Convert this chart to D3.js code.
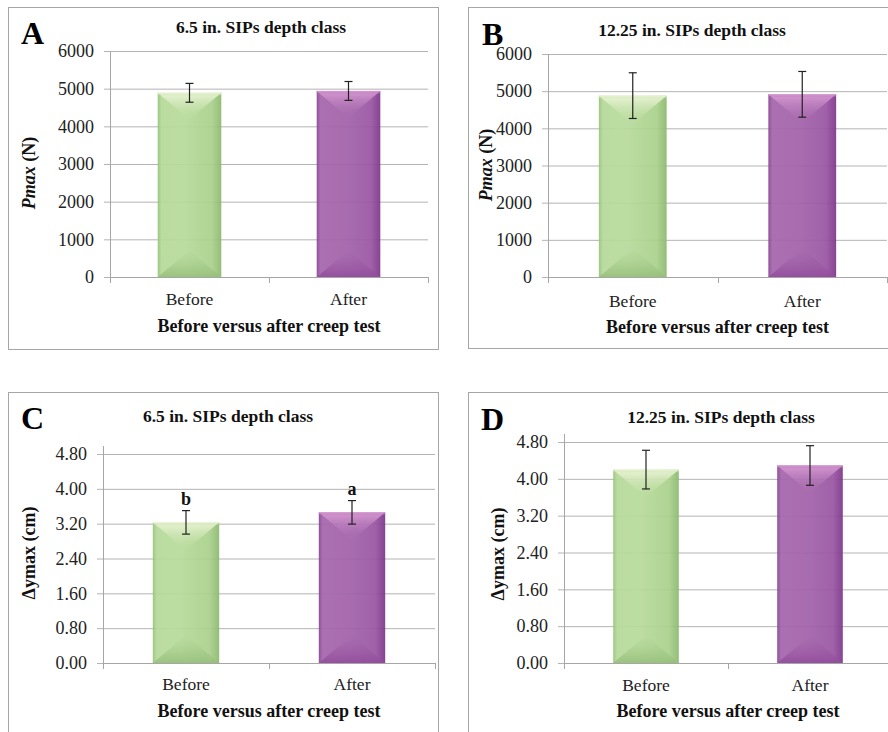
<!DOCTYPE html>
<html>
<head>
<meta charset="utf-8">
<script src="https://cdn.jsdelivr.net/npm/d3@7"></script>
<style>
  body { margin: 0; background: #fff; }
  svg, svg text { font-family: "Liberation Serif", "Times New Roman", Times, "DejaVu Serif", serif !important; }
</style>
</head>
<body>
<div id="chart"></div>
<script>
// data
var categories = ["Before", "After"];

var pmax65 = [4890, 4940];
var pmax65Err = [250, 250];
var pmax1225 = [4880, 4915];
var pmax1225Err = [615, 615];

var dy65 = [3.23, 3.46];
var dy65Err = [0.27, 0.27];
var dy65Letters = ["b", "a"];
var dy1225 = [4.20, 4.29];
var dy1225Err = [0.42, 0.43];

var pmaxTicks = [0, 1000, 2000, 3000, 4000, 5000, 6000];
var dyTicks = [0, 0.8, 1.6, 2.4, 3.2, 4.0, 4.8];

var titles = ["6.5 in. SIPs depth class", "12.25 in. SIPs depth class"];
var xTitle = "Before versus after creep test";

var W = 888, H = 732;
var SERIF = '"Liberation Serif", "Times New Roman", Times, "DejaVu Serif", serif';

var svg = d3.select("#chart").append("svg")
    .attr("width", W)
    .attr("height", H)
    .attr("font-family", SERIF);

var defs = svg.append("defs");

// bar fills: horizontal shading plus bevel triangles
function hGrad(id, stops) {
  var g = defs.append("linearGradient").attr("id", id)
      .attr("x1", "0").attr("x2", "1").attr("y1", "0").attr("y2", "0");
  stops.forEach(function(s) {
    g.append("stop").attr("offset", s[0]).attr("stop-color", s[1]);
  });
}
function vGrad(id, c1, o1, c2, o2) {
  var g = defs.append("linearGradient").attr("id", id)
      .attr("x1", "0").attr("x2", "0").attr("y1", "0").attr("y2", "1");
  g.append("stop").attr("offset", 0).attr("stop-color", c1).attr("stop-opacity", o1);
  g.append("stop").attr("offset", 1).attr("stop-color", c2).attr("stop-opacity", o2);
}
hGrad("gBody", [[0, "#96c379"], [0.06, "#b6da9a"], [0.4, "#b8db9b"], [0.85, "#aad18c"], [1, "#8cba6e"]]);
hGrad("pBody", [[0, "#8a4396"], [0.06, "#a566ac"], [0.4, "#a363aa"], [0.85, "#9a56a3"], [1, "#7e368b"]]);
vGrad("gTop", "#eef6d8", 0.95, "#b6da99", 0.1);
vGrad("pTop", "#d996d2", 0.95, "#a262aa", 0.1);
vGrad("gBot", "#a2cb84", 0.0, "#8fbb72", 0.9);
vGrad("pBot", "#9a56a3", 0.0, "#8a3f95", 0.9);

var fills = [
  { body: "url(#gBody)", top: "url(#gTop)", bot: "url(#gBot)" },
  { body: "url(#pBody)", top: "url(#pTop)", bot: "url(#pBot)" }
];

var panels = [
  { letter: "A", values: pmax65, errs: pmax65Err, ticks: pmaxTicks, fmt: d3.format("d"),
    ylabel: "pmax", border: [8, 7, 430, 342],
    left: 110, right: 428, top: 51, bottom: 277, axisTop: 51,
    letterPos: [21, 44], titlePos: [261, 33], ylabelPos: [35, 173],
    catY: 305, xTitleY: 332, title: titles[0] },
  { letter: "B", values: pmax1225, errs: pmax1225Err, ticks: pmaxTicks, fmt: d3.format("d"),
    ylabel: "pmax", border: [468, 7, 440, 341],
    left: 548, right: 887, top: 54, bottom: 277, axisTop: 54,
    letterPos: [482, 45], titlePos: [692, 36], ylabelPos: [492, 165],
    catY: 307, xTitleY: 333, title: titles[1] },
  { letter: "C", values: dy65, errs: dy65Err, ticks: dyTicks, fmt: d3.format(".2f"),
    ylabel: "dy", letters: dy65Letters, border: [8, 392, 430, 360],
    left: 103, right: 435, top: 454, bottom: 663, axisTop: 446,
    letterPos: [21, 429], titlePos: [228, 422], ylabelPos: [35, 553],
    catY: 690, xTitleY: 717, title: titles[0] },
  { letter: "D", values: dy1225, errs: dy1225Err, ticks: dyTicks, fmt: d3.format(".2f"),
    ylabel: "dy", border: [468, 392, 440, 360],
    left: 564, right: 892, top: 442, bottom: 663, axisTop: 434,
    letterPos: [481, 430], titlePos: [721, 423], ylabelPos: [504, 554],
    catY: 691, xTitleY: 717, title: titles[1] }
];

panels.forEach(drawPanel);

function drawPanel(p) {
  var g = svg.append("g");

  // panel frame
  g.append("rect")
      .attr("x", p.border[0] + 0.5).attr("y", p.border[1] + 0.5)
      .attr("width", p.border[2]).attr("height", p.border[3])
      .attr("fill", "#fff").attr("stroke", "#a6a6a6").attr("stroke-width", 1);

  var x = d3.scaleBand()
      .domain(categories)
      .range([p.left, p.right])
      .paddingInner(0.6)
      .paddingOuter(0.3);

  var ymax = p.ticks[p.ticks.length - 1];
  var y = d3.scaleLinear()
      .domain([0, ymax])
      .range([p.bottom, p.top]);

  // gridlines + y tick labels
  var yAxis = d3.axisLeft(y)
      .tickValues(p.ticks)
      .tickFormat(p.fmt)
      .tickSize(-(p.right - p.left))
      .tickPadding(16);

  var ya = g.append("g")
      .attr("transform", "translate(" + p.left + ",0)")
      .call(yAxis)
      .attr("font-family", SERIF)
      .attr("font-size", 18);
  ya.select(".domain").remove();
  ya.selectAll("line").attr("stroke", "#b4b4b4").attr("x1", -6);
  ya.selectAll("text").attr("fill", "#222");

  // y axis line
  g.append("line")
      .attr("x1", p.left + 0.5).attr("x2", p.left + 0.5)
      .attr("y1", p.axisTop).attr("y2", p.bottom + 6)
      .attr("stroke", "#a6a6a6");

  // bars
  var bars = g.selectAll(".bar")
      .data(p.values)
      .enter().append("g")
      .attr("class", "bar")
      .attr("opacity", 0.93);

  bars.each(function(v, i) {
    var b = d3.select(this);
    var x0 = x(categories[i]), x1 = x0 + x.bandwidth(), cx = (x0 + x1) / 2;
    var yt = y(v), yb = y(0);
    var depth = x.bandwidth() * 0.42;
    b.append("rect")
        .attr("x", x0).attr("y", yt)
        .attr("width", x.bandwidth()).attr("height", yb - yt)
        .attr("fill", fills[i].body);
    b.append("path")
        .attr("d", "M" + x0 + "," + yt + "L" + x1 + "," + yt + "L" + cx + "," + (yt + depth) + "Z")
        .attr("fill", fills[i].top);
    b.append("path")
        .attr("d", "M" + x0 + "," + yb + "L" + x1 + "," + yb + "L" + cx + "," + (yb - depth) + "Z")
        .attr("fill", fills[i].bot);
    b.append("rect")
        .attr("x", x0).attr("y", yt)
        .attr("width", x.bandwidth()).attr("height", 3)
        .attr("fill", fills[i].top);
  });

  // error bars
  var eb = g.selectAll(".err")
      .data(p.values)
      .enter().append("g")
      .attr("class", "err")
      .attr("stroke", "#222")
      .attr("stroke-width", 1.2);
  eb.append("line")
      .attr("x1", function(d, i) { return x(categories[i]) + x.bandwidth() / 2; })
      .attr("x2", function(d, i) { return x(categories[i]) + x.bandwidth() / 2; })
      .attr("y1", function(d, i) { return y(d + p.errs[i]); })
      .attr("y2", function(d, i) { return y(d - p.errs[i]); });
  [1, -1].forEach(function(sgn) {
    eb.append("line")
        .attr("x1", function(d, i) { return x(categories[i]) + x.bandwidth() / 2 - 4; })
        .attr("x2", function(d, i) { return x(categories[i]) + x.bandwidth() / 2 + 4; })
        .attr("y1", function(d, i) { return y(d + sgn * p.errs[i]); })
        .attr("y2", function(d, i) { return y(d + sgn * p.errs[i]); });
  });

  // significance letters
  if (p.letters) {
    g.selectAll(".sig")
        .data(p.values)
        .enter().append("text")
        .attr("class", "sig")
        .attr("x", function(d, i) { return x(categories[i]) + x.bandwidth() / 2; })
        .attr("y", function(d, i) { return y(d + p.errs[i]) - 6; })
        .attr("text-anchor", "middle")
        .attr("font-size", 18)
        .attr("font-weight", "bold")
        .attr("fill", "#111")
        .text(function(d, i) { return p.letters[i]; });
  }

  // x axis line and category boundary ticks
  g.append("line")
      .attr("x1", p.left).attr("x2", p.right)
      .attr("y1", p.bottom + 0.5).attr("y2", p.bottom + 0.5)
      .attr("stroke", "#a6a6a6");
  var bounds = d3.range(categories.length + 1).map(function(k) { return p.left + k * x.step(); });
  g.selectAll(".xtick")
      .data(bounds)
      .enter().append("line")
      .attr("class", "xtick")
      .attr("x1", function(d) { return Math.round(d) + 0.5; })
      .attr("x2", function(d) { return Math.round(d) + 0.5; })
      .attr("y1", p.bottom)
      .attr("y2", p.bottom + 6)
      .attr("stroke", "#a6a6a6");

  var xa = g.append("g")
      .attr("transform", "translate(0," + p.bottom + ")")
      .call(d3.axisBottom(x).tickSize(0).tickPadding(0))
      .attr("font-family", SERIF)
      .attr("font-size", 17.5);
  xa.select(".domain").remove();
  xa.selectAll("text")
      .attr("y", p.catY - p.bottom)
      .attr("dy", 0)
      .attr("fill", "#222");

  // x title
  g.append("text")
      .attr("x", (p.left + p.right) / 2)
      .attr("y", p.xTitleY)
      .attr("text-anchor", "middle")
      .attr("font-size", 18)
      .attr("font-weight", "bold")
      .attr("fill", "#111")
      .text(xTitle);

  // chart title
  g.append("text")
      .attr("x", p.titlePos[0]).attr("y", p.titlePos[1])
      .attr("text-anchor", "middle")
      .attr("font-size", 17.5)
      .attr("font-weight", "bold")
      .attr("fill", "#111")
      .text(p.title);

  // panel letter
  g.append("text")
      .attr("x", p.letterPos[0]).attr("y", p.letterPos[1])
      .attr("font-size", 32)
      .attr("font-weight", "bold")
      .attr("fill", "#000")
      .text(p.letter);

  // y title
  var yt = g.append("text")
      .attr("transform", "translate(" + p.ylabelPos[0] + "," + p.ylabelPos[1] + ") rotate(-90)")
      .attr("text-anchor", "middle")
      .attr("font-size", 18)
      .attr("font-weight", "bold")
      .attr("fill", "#111");
  if (p.ylabel === "pmax") {
    yt.append("tspan").attr("font-style", "italic").text("Pmax");
    yt.append("tspan").text(" (N)");
  } else {
    yt.text("\u0394ymax (cm)");
  }
}
</script>
</body>
</html>
